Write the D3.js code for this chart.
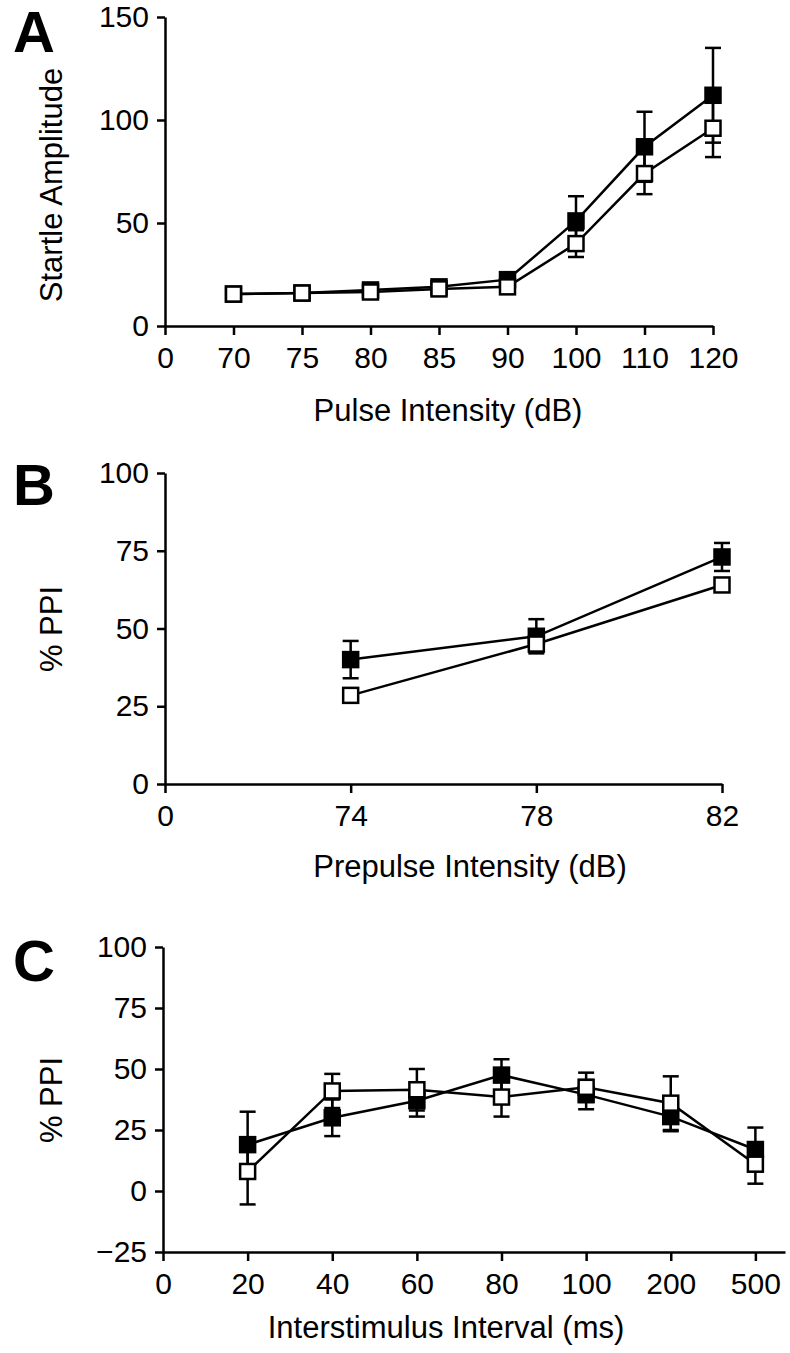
<!DOCTYPE html>
<meta charset="utf-8">
<style>
body { margin: 0; background: #fff; }
svg { display: block; }
text { font-family: "Liberation Sans", Arial, sans-serif; fill: #000; }
.axis path, .axis line { stroke: #000; stroke-width: 2.5px; }
.axis text { font-size: 30px; }
.title { font-size: 31px; }
.letter { font-size: 58px; font-weight: bold; }
.series { fill: none; stroke: #000; stroke-width: 2.5px; }
.err { stroke: #000; stroke-width: 2.5px; }
</style>
<svg width="790" height="1353"></svg>
<script src="https://cdn.jsdelivr.net/npm/d3@7"></script>
<script>
// panel A - startle amplitude by pulse intensity
var pulseLabels = ["0", "70", "75", "80", "85", "90", "100", "110", "120"];
var pulseFilled = [15.5, 16, 17.5, 19, 22.5, 51, 87, 112];
var pulseFilledErr = [1, 1, 1, 1.2, 1.5, 12, 17, 23];
var pulseOpen = [15.5, 16, 16.5, 18, 19, 40, 74, 96];
var pulseOpenErr = [1, 1, 1, 1, 1.5, 6.5, 10, 14];
var pulseYTicks = [0, 50, 100, 150];

// panel B - %PPI by prepulse intensity
var prepulseLabels = ["0", "74", "78", "82"];
var prepulseFilled = [40, 47.5, 73];
var prepulseFilledErr = [6, 5.5, 4.5];
var prepulseOpen = [28.5, 45, 64];
var prepulseOpenErr = [2, 2.5, 2];
var ppiYTicks = [0, 25, 50, 75, 100];

// panel C - %PPI by interstimulus interval
var isiLabels = ["0", "20", "40", "60", "80", "100", "200", "500"];
var isiFilled = [19, 30, 37, 47.5, 39.5, 30.5, 17];
var isiFilledErr = [13.5, 7.5, 6.5, 6.5, 6, 6, 9];
var isiOpen = [8, 41, 41.5, 38.5, 42.5, 36, 11];
var isiOpenErr = [13.5, 7, 8.5, 8, 6, 11, 8];
var isiYTicks = [-25, 0, 25, 50, 75, 100];

var svg = d3.select("svg");

function drawPanel(p) {
  var g = svg.append("g");

  var x = d3.scaleLinear().domain([0, p.xEndIndex]).range([p.x0, p.x1]);
  var y = d3.scaleLinear().domain(p.yDomain).range([p.yBottom, p.yTop]);

  g.append("g")
      .attr("class", "axis")
      .attr("transform", "translate(0," + p.yBottom + ")")
      .call(d3.axisBottom(x)
        .tickValues(d3.range(p.labels.length))
        .tickFormat(function(i) { return p.labels[i]; })
        .tickSize(9).tickSizeOuter(0).tickPadding(12));

  g.append("g")
      .attr("class", "axis")
      .attr("transform", "translate(" + p.x0 + ",0)")
      .call(d3.axisLeft(y)
        .tickValues(p.yTicks)
        .tickSize(8).tickSizeOuter(0).tickPadding(8));

  g.selectAll(".axis .domain").attr("fill", "none");

  var series = [
    {vals: p.filled, errs: p.filledErr, fill: "#000"},
    {vals: p.open, errs: p.openErr, fill: "#fff"}
  ];

  // error bars under everything else
  series.forEach(function(s) {
    var eb = g.append("g").selectAll("g")
      .data(s.vals.map(function(v, i) { return {i: i + 1, v: v, e: s.errs[i]}; }))
      .enter().append("g").attr("class", "err");
    eb.append("line")
        .attr("x1", function(d) { return x(d.i); })
        .attr("x2", function(d) { return x(d.i); })
        .attr("y1", function(d) { return y(d.v - d.e); })
        .attr("y2", function(d) { return y(d.v + d.e); });
    [-1, 1].forEach(function(sgn) {
      eb.append("line")
          .attr("x1", function(d) { return x(d.i) - 8; })
          .attr("x2", function(d) { return x(d.i) + 8; })
          .attr("y1", function(d) { return y(d.v + sgn * d.e); })
          .attr("y2", function(d) { return y(d.v + sgn * d.e); });
    });
  });

  var line = d3.line()
      .x(function(d, i) { return x(i + 1); })
      .y(function(d) { return y(d); });

  series.forEach(function(s) {
    g.append("path").attr("class", "series").attr("d", line(s.vals));
  });

  series.forEach(function(s) {
    g.append("g").selectAll("rect")
      .data(s.vals)
      .enter().append("rect")
        .attr("x", function(d, i) { return x(i + 1) - 7.5; })
        .attr("y", function(d) { return y(d) - 7.5; })
        .attr("width", 15)
        .attr("height", 15)
        .attr("fill", s.fill)
        .attr("stroke", "#000")
        .attr("stroke-width", 2.5);
  });

  g.append("text")
      .attr("class", "title")
      .attr("x", p.xTitleX)
      .attr("y", p.xTitleY)
      .attr("text-anchor", "middle")
      .text(p.xTitle);

  g.append("text")
      .attr("class", "title")
      .attr("transform", "translate(62," + p.yTitleY + ") rotate(-90)")
      .attr("text-anchor", "middle")
      .text(p.yTitle);

  g.append("text")
      .attr("class", "letter")
      .attr("x", 13)
      .attr("y", p.letterY)
      .text(p.letter);
}

drawPanel({
  letter: "A", letterY: 52,
  labels: pulseLabels, filled: pulseFilled, filledErr: pulseFilledErr,
  open: pulseOpen, openErr: pulseOpenErr, yTicks: pulseYTicks,
  yDomain: [0, 150], yBottom: 326, yTop: 17,
  x0: 165, x1: 713, xEndIndex: 8,
  xTitle: "Pulse Intensity (dB)", xTitleX: 448, xTitleY: 421,
  yTitle: "Startle Amplitude", yTitleY: 185
});

drawPanel({
  letter: "B", letterY: 505,
  labels: prepulseLabels, filled: prepulseFilled, filledErr: prepulseFilledErr,
  open: prepulseOpen, openErr: prepulseOpenErr, yTicks: ppiYTicks,
  yDomain: [0, 100], yBottom: 784, yTop: 473,
  x0: 165, x1: 722, xEndIndex: 3,
  xTitle: "Prepulse Intensity (dB)", xTitleX: 470, xTitleY: 877,
  yTitle: "% PPI", yTitleY: 629
});

drawPanel({
  letter: "C", letterY: 981,
  labels: isiLabels, filled: isiFilled, filledErr: isiFilledErr,
  open: isiOpen, openErr: isiOpenErr, yTicks: isiYTicks,
  yDomain: [-25, 100], yBottom: 1252, yTop: 947,
  x0: 163, x1: 785, xEndIndex: 7.35,
  xTitle: "Interstimulus Interval (ms)", xTitleX: 446, xTitleY: 1338,
  yTitle: "% PPI", yTitleY: 1100
});
</script>
